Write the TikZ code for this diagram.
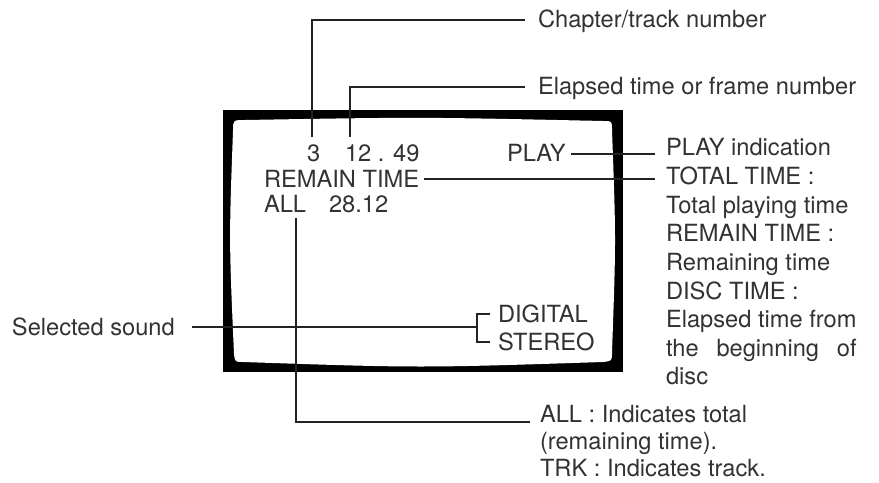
\documentclass[tikz,border=0pt]{standalone}
\usepackage{fontspec}
\setmainfont{TeX Gyre Heros}
\definecolor{inkgray}{RGB}{50,50,50}
\definecolor{leadgray}{RGB}{35,35,35}
\usetikzlibrary{calc}
\newlength{\justw}
\newcommand{\osdfont}{\fontsize{20.2pt}{24pt}\selectfont}
\tikzset{
  txt/.style={anchor=base west, inner sep=0pt, outer sep=0pt,
              text height=0.5cm, text depth=0pt,
              text=inkgray, font=\osdfont},
  lead/.style={draw=leadgray, line width=1.7pt},
}

\begin{document}
\settowidth{\justw}{\osdfont Elapsed time from}
\begin{tikzpicture}[x=0.03cm, y=-0.03cm]
      \useasboundingbox (0,0) rectangle (879,483);

      % ── monitor frame ──────────────────────────────────────
      \fill[black] (223,110) rectangle (623,372);
      \fill[white] (245,120) .. controls (420,117) .. (603,121)
        .. controls (612,121) .. (612,130)
        .. controls (616,240) .. (612,352)
        .. controls (612,361) .. (603,362)
        .. controls (420,368) .. (243,362)
        .. controls (235,362) .. (234,354)
        .. controls (229,240) .. (233,131)
        .. controls (233,120) .. (245,120) -- cycle;

      % ── on-screen read-out ─────────────────────────────────
      \node[txt] (chap)    at (307,162) {3};
      \node[txt] (etime)   at (345,162) {12 . 49};
      \node[txt] (play)    at (507,162) {PLAY};
      \node[txt] (remain)  at (264,187) {REMAIN TIME};
      \node[txt] (all)     at (264,213) {ALL};
      \node[txt] (alltime) at (329,213) {28.12};
      \node[txt] (digital) at (498,322) {DIGITAL};
      \node[txt] (stereo)  at (498,350) {STEREO};

      % ── callout texts ──────────────────────────────────────
      \node[txt] (chapL)  at (538,28) {Chapter/track number};
      \node[txt] (etimeL) at (538,95) {Elapsed time or frame number};
      \node[txt] (soundL) at (12,335) {Selected sound};
      \foreach \t [count=\i] in {PLAY indication, TOTAL TIME :,
          Total playing time, REMAIN TIME :, Remaining time, DISC TIME :,
          Elapsed time from, {\hbox to \justw{the\hfill beginning\hfill of}}, disc}
        \node[txt] (info\i) at (666,{156+28.6*(\i-1)}) {\t};
      \node[txt] (allL1) at (540,422) {ALL : Indicates total};
      \node[txt] (allL2) at (540,449) {(remaining time).};
      \node[txt] (allL3) at (540,476) {TRK : Indicates track.};

      % ── leader lines ───────────────────────────────────────
      \draw[lead] ($(chap.north)+(-2,-8)$) |- ($(chapL.west)+(-13,0)$);
      \draw[lead] ($(etime.north west)+(5,-8)$) |- ($(etimeL.west)+(-13,0)$);
      \draw[lead] ($(play.east)+(5,0)$) -- ($(play.east -| info1.west)+(-11,0)$);
      \draw[lead] ($(remain.east)+(5,0)$) -- ($(remain.east -| info2.west)+(-11,0)$);
      \coordinate (brk) at ($(digital.west)+(-21,0)$);
      \draw[lead] ($(digital.west)+(-8,0)$) -- (brk) |- ($(stereo.west)+(-8,0)$);
      \draw[lead] ($(soundL.east)+(17,0)$) -- (soundL.east -| brk);
      \draw[lead] ($(all.south west)+(32,5)$) |- ($(allL1.south west)+(-10,0)$);
    \end{tikzpicture}
\end{document}
